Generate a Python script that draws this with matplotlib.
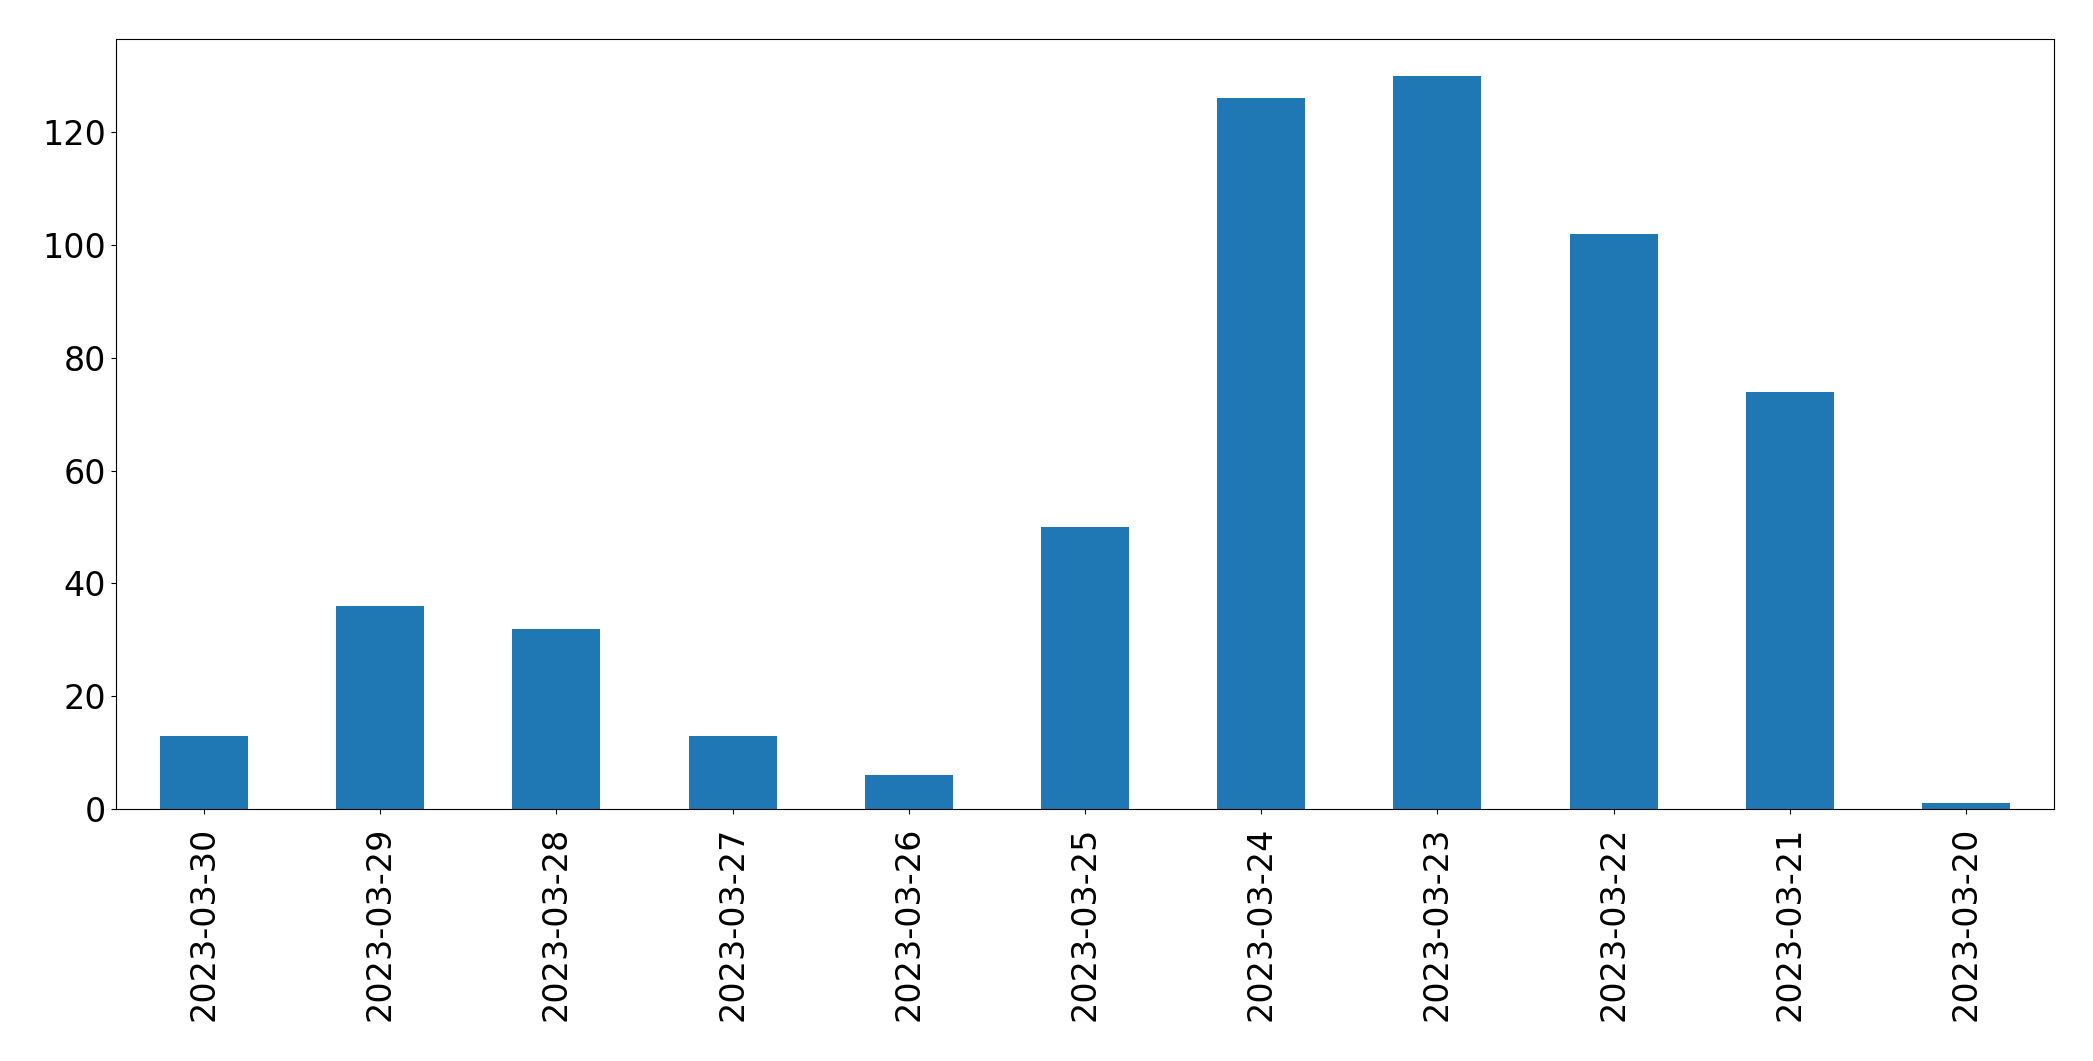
import matplotlib

matplotlib.use("Agg")
import matplotlib.pyplot as plt
import pandas as pd

DATES = [
    "2023-03-30", "2023-03-29", "2023-03-28", "2023-03-27", "2023-03-26", "2023-03-25",
    "2023-03-24", "2023-03-23", "2023-03-22", "2023-03-21", "2023-03-20",
]
COUNTS = [13, 36, 32, 13, 6, 50, 126, 130, 102, 74, 1]


def main() -> None:
    counts = pd.Series(COUNTS, index=DATES)
    fig, ax = plt.subplots(figsize=(20.93, 10.61), dpi=100)
    counts.plot(kind="bar", ax=ax, color="#1f77b4")
    ax.tick_params(axis="both", labelsize=24)
    ax.tick_params(axis="x", pad=9)
    fig.subplots_adjust(left=0.0554, right=0.9814, top=0.9632, bottom=0.2375)
    fig.savefig("out.png", dpi=100)


if __name__ == "__main__":
    main()
